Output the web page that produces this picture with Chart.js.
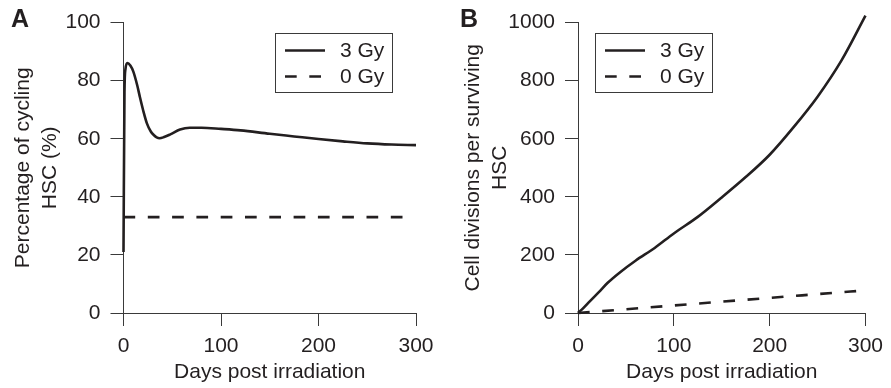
<!DOCTYPE html>
<html>
<head>
<meta charset="utf-8">
<script src="https://cdn.jsdelivr.net/npm/chart.js@4"></script>
<style>
  body { margin: 0; background: #fff; }
  #wrap { position: relative; width: 891px; height: 388px; }
  .panel { position: absolute; top: 0; height: 388px; }
  .tag { position: absolute; top: 6px; font: bold 25px "Liberation Sans", Arial, sans-serif; line-height: 1; color: #231f20; }
</style>
</head>
<body>
<div id="wrap">
  <div class="panel" style="left:0;width:445px"><canvas id="chartA" width="445" height="388"></canvas></div>
  <div class="panel" style="left:445px;width:446px"><canvas id="chartB" width="446" height="388"></canvas></div>
  <div class="tag" style="left:11px">A</div>
  <div class="tag" style="left:460px">B</div>
</div>
<script>
// ─── data ───
const xTicks = [0, 100, 200, 300];

// Panel A: percentage of cycling HSC
const cyclingDays3Gy = [0, 1, 2, 4, 7, 10, 14, 17, 20, 24, 28, 31, 34, 37, 41, 48, 58, 68, 80, 100, 120, 150, 175, 200, 225, 250, 275, 300];
const cycling3Gy     = [21, 76, 84, 86.1, 85.2, 83.2, 78.5, 74.1, 70, 65.3, 62.5, 61.3, 60.5, 60.2, 60.5, 61.5, 63.2, 63.8, 63.8, 63.4, 62.9, 61.7, 60.8, 59.9, 59.1, 58.4, 58.0, 57.8];
const cyclingDays0Gy = [0, 287];
const cycling0Gy     = [33, 33];

// Panel B: cell divisions per surviving HSC
const divDays3Gy   = [0, 5, 12, 22, 31, 43, 60, 80, 100, 125, 150, 175, 200, 225, 250, 275, 300];
const divisions3Gy = [0, 15, 39, 73, 104, 138, 180, 224, 274, 331, 398, 468, 545, 640, 745, 870, 1024];
const divDays0Gy   = [0, 50, 100, 150, 200, 250, 300];
const divisions0Gy = [0, 13, 26, 39, 52, 65, 78];

const seriesNames = ['3 Gy', '0 Gy'];

const INK = '#231f20';
const AXIS = '#3a3a3a';
const FONT = '"Liberation Sans", Arial, Helvetica, sans-serif';
Chart.defaults.font.family = FONT;
Chart.defaults.color = INK;

function pts(xs, ys) {
  return xs.map((x, i) => ({ x: x, y: ys[i] }));
}

function lineSet(label, xs, ys, dashed) {
  return {
    label: label,
    data: pts(xs, ys),
    borderColor: INK,
    borderWidth: 2.6,
    borderDash: dashed ? [11.7, 12.6] : [],
    pointRadius: 0,
    fill: false,
    clip: false,
    cubicInterpolationMode: 'monotone'
  };
}

// boxed legend drawn inside the plot
const boxLegend = {
  id: 'boxLegend',
  afterDatasetsDraw(chart, args, opts) {
    const ctx = chart.ctx;
    const a = chart.chartArea;
    const x = Math.round(a.left + opts.dx), y = Math.round(a.top + opts.dy);
    ctx.save();
    ctx.strokeStyle = AXIS;
    ctx.lineWidth = 1;
    ctx.strokeRect(x + 0.5, y + 0.5, 117, 59);
    chart.data.datasets.forEach((ds, i) => {
      const ly = y + 17.5 + i * 26;
      ctx.beginPath();
      ctx.setLineDash(ds.borderDash || []);
      ctx.strokeStyle = ds.borderColor;
      ctx.lineWidth = ds.borderWidth;
      ctx.moveTo(x + 10, ly);
      ctx.lineTo(x + 50, ly);
      ctx.stroke();
      ctx.setLineDash([]);
      ctx.fillStyle = INK;
      ctx.font = '21px ' + FONT;
      ctx.textBaseline = 'middle';
      ctx.fillText(ds.label, x + 65, ly + 1);
    });
    ctx.restore();
  }
};

function makeChart(id, datasets, o) {
  const canvas = document.getElementById(id);
  return new Chart(canvas, {
    type: 'line',
    data: { datasets: datasets },
    plugins: [boxLegend],
    options: {
      responsive: false,
      animation: false,
      devicePixelRatio: 1,
      layout: { padding: { left: 0, right: o.padRight, top: 21, bottom: 0 } },
      plugins: {
        legend: { display: false },
        tooltip: { enabled: false },
        boxLegend: { dx: o.legendDx, dy: 10 }
      },
      scales: {
        x: {
          type: 'linear', min: 0, max: 300,
          afterBuildTicks: s => { s.ticks = xTicks.map(v => ({ value: v })); },
          ticks: { color: INK, font: { size: 21 }, padding: 8, maxRotation: 0, callback: v => String(v) },
          grid: { drawOnChartArea: false, drawTicks: true, tickLength: 13, color: AXIS, tickColor: AXIS, lineWidth: 1 },
          border: { display: true, color: AXIS, width: 1 },
          title: { display: true, text: 'Days post irradiation', color: INK, font: { size: 21 }, padding: { top: 0, bottom: 3 } },
          afterFit: s => { s.height = 75; }
        },
        y: {
          type: 'linear', min: 0, max: o.yMax,
          ticks: { stepSize: o.yStep, color: INK, font: { size: 21 }, padding: 10, callback: v => String(v) },
          grid: { drawOnChartArea: false, drawTicks: true, tickLength: 13, color: AXIS, tickColor: AXIS, lineWidth: 1 },
          border: { display: true, color: AXIS, width: 1 },
          title: { display: true, text: o.yTitle, color: INK, font: { size: 21, lineHeight: 1.27 }, padding: { top: o.yTitlePad, bottom: 0 } },
          afterFit: s => { s.width = o.yWidth; }
        }
      }
    }
  });
}

makeChart('chartA', [
  lineSet(seriesNames[0], cyclingDays3Gy, cycling3Gy, false),
  lineSet(seriesNames[1], cyclingDays0Gy, cycling0Gy, true)
], {
  yMax: 100, yStep: 20, yWidth: 123.5, padRight: 29, legendDx: 151.5,
  yTitle: ['Percentage of cycling', 'HSC (%)'], yTitlePad: 10
});

makeChart('chartB', [
  lineSet(seriesNames[0], divDays3Gy, divisions3Gy, false),
  lineSet(seriesNames[1], divDays0Gy, divisions0Gy, true)
], {
  yMax: 1000, yStep: 200, yWidth: 133, padRight: 21, legendDx: 17,
  yTitle: ['Cell divisions per surviving', 'HSC'], yTitlePad: 14.7
});
</script>
</body>
</html>
